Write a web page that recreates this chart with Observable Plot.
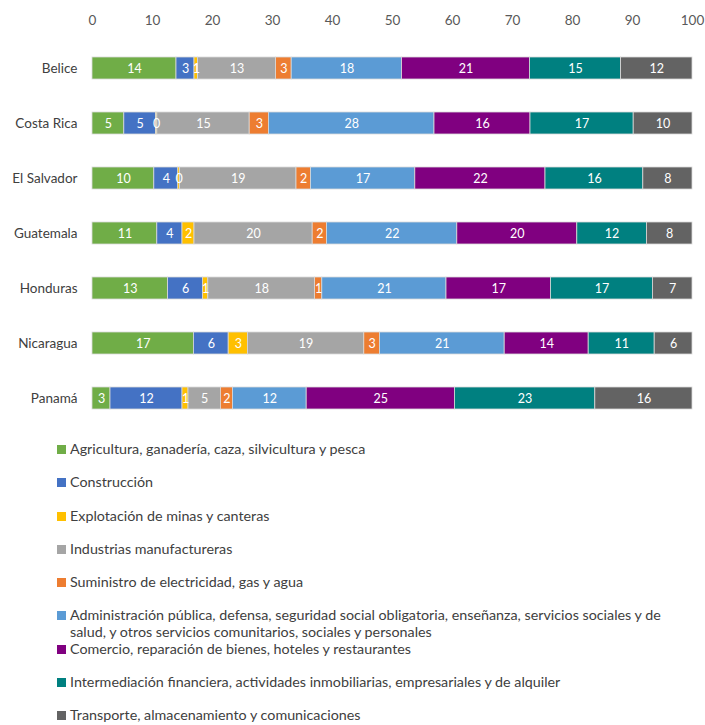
<!DOCTYPE html>
<html>
<head>
<meta charset="utf-8">
<script src="https://cdn.jsdelivr.net/npm/d3@7"></script>
<script src="https://cdn.jsdelivr.net/npm/@observablehq/plot@0.6"></script>
<style>
  body { margin: 0; background: #fff; font-family: Lato, "Open Sans", sans-serif; }
  #legend { margin-top: 1px; }
  .item { position: relative; height: 33.3px; }
  .sw { position: absolute; left: 57px; top: 12px; width: 9px; height: 9px; }
  .lbl { position: absolute; left: 70px; top: 7px; width: 612px; font-size: 14.3px; line-height: 17px; color: #404040; }
</style>
</head>
<body>
<div id="chart"></div>
<div id="legend"></div>
<script>
const countries = ["Belice", "Costa Rica", "El Salvador", "Guatemala", "Honduras", "Nicaragua", "Panamá"];
const sectors = [
  "Agricultura, ganadería, caza, silvicultura y pesca",
  "Construcción",
  "Explotación de minas y canteras",
  "Industrias manufactureras",
  "Suministro de electricidad, gas y agua",
  "Administración pública, defensa, seguridad social obligatoria, enseñanza, servicios sociales y de salud, y otros servicios comunitarios, sociales y personales",
  "Comercio, reparación de bienes, hoteles y restaurantes",
  "Intermediación financiera, actividades inmobiliarias, empresariales y de alquiler",
  "Transporte, almacenamiento y comunicaciones"
];
const colors = ["#70AD47", "#4472C4", "#FFC000", "#A5A5A5", "#ED7D31", "#5B9BD5", "#800080", "#008080", "#636363"];

// values per sector, in country order
const agricultura    = [14.0, 5.3, 10.3, 10.8, 12.6, 16.9, 3.0];
const construccion   = [3.0, 5.3, 4.0, 4.2, 5.8, 5.8, 12.0];
const minas          = [0.6, 0.2, 0.3, 2.0, 0.9, 3.2, 1.0];
const manufactura    = [13.0, 15.4, 19.4, 19.7, 17.8, 19.4, 5.4];
const electricidad   = [2.6, 3.2, 2.4, 2.4, 1.2, 2.6, 2.0];
const administracion = [18.4, 27.6, 17.4, 21.7, 20.7, 20.8, 12.3];
const comercio       = [21.3, 16.0, 21.7, 20.0, 17.4, 14.0, 24.7];
const financiera     = [15.2, 17.2, 16.3, 11.6, 17.0, 11.0, 23.4];
const transporte     = [11.9, 9.8, 8.2, 7.6, 6.6, 6.3, 16.2];
const xTicks = [0, 10, 20, 30, 40, 50, 60, 70, 80, 90, 100];

const series = [agricultura, construccion, minas, manufactura, electricidad, administracion, comercio, financiera, transporte];
const data = [];
countries.forEach((c, i) => {
  series.forEach((s, j) => data.push({country: c, sector: sectors[j], value: s[i]}));
});

const chart = Plot.plot({
  width: 705,
  height: 432,
  marginLeft: 92,
  marginRight: 13,
  marginTop: 40,
  marginBottom: 7,
  style: {fontFamily: "Lato, 'Open Sans', sans-serif", fontSize: "13px", color: "#595959", background: "white"},
  x: {domain: [0, 100], ticks: xTicks},
  y: {domain: countries, paddingInner: 0.6, paddingOuter: 0.3},
  color: {domain: sectors, range: colors},
  marks: [
    Plot.axisX({anchor: "top", ticks: xTicks, tickSize: 0, tickPadding: 16, label: null, fill: "#595959", fontSize: 13.5}),
    Plot.axisY({anchor: "left", tickSize: 0, tickPadding: 15, label: null, fill: "#404040", fontSize: 13.5}),
    Plot.ruleX([0], {y1: countries[0], y2: countries[countries.length - 1], stroke: "#d9d9d9", strokeWidth: 1.5, insetTop: -27.5, insetBottom: -27.5}),
    Plot.barX(data, Plot.stackX({x: "value", y: "country", fill: "sector", stroke: "#d9d9d9", strokeWidth: 0.8})),
    Plot.text(data, Plot.stackX({x: "value", y: "country", z: "sector", text: d => d.value.toFixed(0), fill: "white", fontSize: 12.5}))
  ]
});
document.getElementById("chart").appendChild(chart);

const legend = document.getElementById("legend");
sectors.forEach((s, j) => {
  const item = document.createElement("div");
  item.className = "item";
  const sw = document.createElement("div");
  sw.className = "sw";
  sw.style.background = colors[j];
  const lbl = document.createElement("div");
  lbl.className = "lbl";
  lbl.textContent = s;
  item.appendChild(sw);
  item.appendChild(lbl);
  legend.appendChild(item);
});
</script>
</body>
</html>
